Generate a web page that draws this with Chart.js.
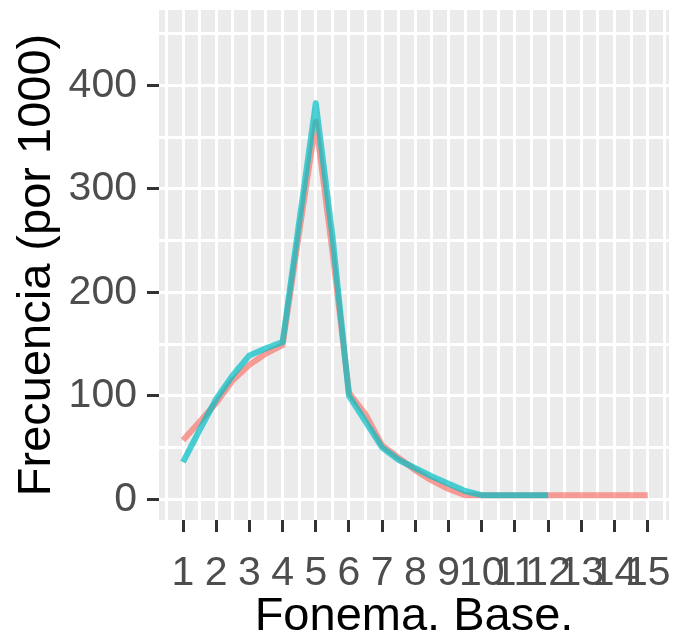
<!DOCTYPE html>
<html>
<head>
<meta charset="utf-8">
<script src="https://cdn.jsdelivr.net/npm/chart.js@4"></script>
<style>
  body { margin: 0; background: #fff; }
</style>
</head>
<body>
<canvas id="chart" width="678" height="638"></canvas>
<script>
(function() {

  "use strict";

  // values
  var xVals = [1, 1.5, 2, 2.5, 3, 3.5, 4, 4.5, 5, 5.5, 6, 6.5, 7, 7.5, 8, 8.5, 9, 9.5, 10, 11, 12, 13, 14, 15];
  var salmonVals = [57, 75, 93, 115, 130, 141, 149, 258, 365, 240, 103, 82, 52, 40, 28, 18, 10, 4, 4, 4, 4, 4, 4, 4];
  var tealVals = [36, 67, 97, 120, 139, 146, 152, 268, 383, 255, 100, 75, 50, 38, 30, 22, 15, 8, 4, 4, 4, null, null, null];
  var xTicks = [1, 2, 3, 4, 5, 6, 7, 8, 9, 10, 11, 12, 13, 14, 15];
  var yTicks = [0, 100, 200, 300, 400];

  function toPoints(vals) {
    return xVals.map(function(x, i) { return {x: x, y: vals[i]}; });
  }

  // grid at every half step, labels only at the ticks above
  var xGrid = [0.5];
  xTicks.forEach(function(t) { xGrid.push(t, t + 0.5); });
  var yGrid = [];
  yTicks.forEach(function(t) { yGrid.push(t, t + 50); });

  var panelBg = {
    id: 'panelBg',
    beforeDraw: function(chart) {
      var a = chart.chartArea, ctx = chart.ctx;
      ctx.save();
      ctx.fillStyle = '#EBEBEB';
      ctx.fillRect(a.left, a.top, a.right - a.left, a.bottom - a.top);
      ctx.restore();
    }
  };

  var tickFont = {family: "'Liberation Sans', Arial, sans-serif", size: 41};
  var titleFont = {family: "'Liberation Sans', Arial, sans-serif", size: 47, lineHeight: 0.9};

  new Chart(document.getElementById("chart"), {
    type: 'line',
    data: {
      datasets: [
        {
          label: "A",
          data: toPoints(salmonVals),
          borderColor: "rgba(248,118,109,0.7)",
          borderWidth: 6,
          borderJoinStyle: 'round',
          pointRadius: 0,
          tension: 0,
          order: 1
        },
        {
          label: "B",
          data: toPoints(tealVals),
          borderColor: "rgba(0,191,196,0.7)",
          borderWidth: 6,
          borderJoinStyle: 'round',
          pointRadius: 0,
          tension: 0,
          spanGaps: false,
          order: 0
        }
      ]
    },
    options: {
      responsive: false,
      animation: false,
      devicePixelRatio: 1,
      layout: {padding: {top: 10, right: 9, left: 0, bottom: 0}},
      plugins: {legend: {display: false}, tooltip: {enabled: false}},
      scales: {
        x: {
          type: 'linear',
          min: 0.277,
          max: 15.64,
          afterBuildTicks: function(s) { s.ticks = xGrid.map(function(v) { return {value: v}; }); },
          afterFit: function(s) { s.height = 118; s.paddingLeft = 0; s.paddingRight = 0; },
          border: {display: false},
          grid: {
            color: '#FFFFFF',
            lineWidth: 3,
            tickLength: 12,
            tickWidth: 3,
            tickColor: function(c) { return xTicks.indexOf(c.tick.value) >= 0 ? '#333333' : 'rgba(0,0,0,0)'; }
          },
          ticks: {
            autoSkip: false,
            maxRotation: 0,
            minRotation: 0,
            padding: 17,
            color: '#4D4D4D',
            font: tickFont,
            callback: function(v) { return xTicks.indexOf(v) >= 0 ? String(v) : ''; }
          },
          title: {display: true, text: 'Fonema. Base.', color: '#000000', font: titleFont, padding: {top: 0, bottom: 0}}
        },
        y: {
          min: -20,
          max: 473,
          afterBuildTicks: function(s) { s.ticks = yGrid.map(function(v) { return {value: v}; }); },
          afterFit: function(s) { s.width = 159; s.paddingTop = 0; s.paddingBottom = 0; },
          border: {display: false},
          grid: {
            color: '#FFFFFF',
            lineWidth: 3,
            tickLength: 12,
            tickWidth: 3,
            tickColor: function(c) { return yTicks.indexOf(c.tick.value) >= 0 ? '#333333' : 'rgba(0,0,0,0)'; }
          },
          ticks: {
            padding: 10,
            color: '#4D4D4D',
            font: tickFont,
            callback: function(v) { return yTicks.indexOf(v) >= 0 ? String(v) : ''; }
          },
          title: {display: true, text: 'Frecuencia (por 1000)', color: '#000000', font: titleFont, padding: {top: 16, bottom: 0}}
        }
      }
    },
    plugins: [panelBg]
  });

})();
</script>
</body>
</html>
